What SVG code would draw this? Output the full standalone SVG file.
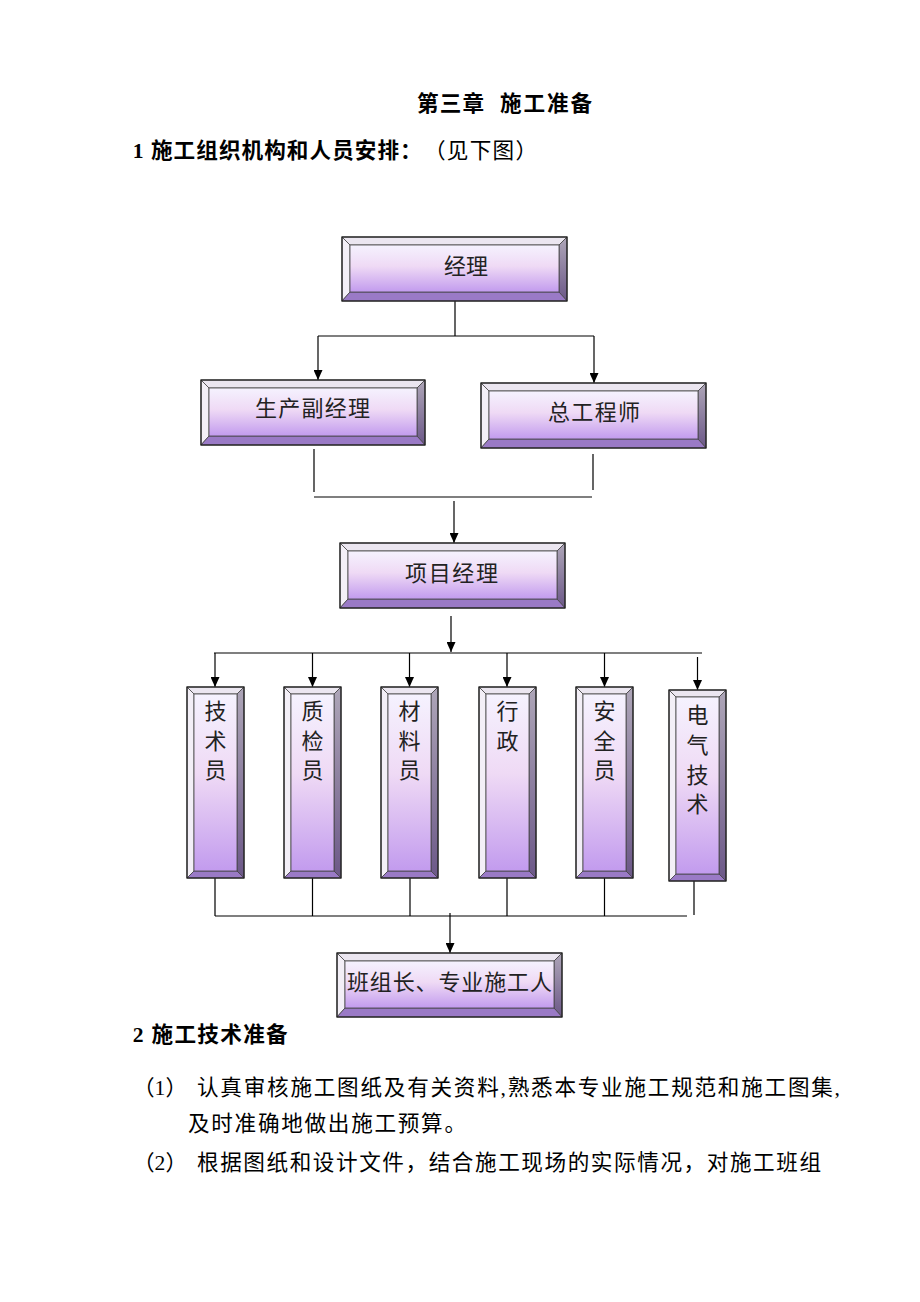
<svg xmlns="http://www.w3.org/2000/svg" width="920" height="1302" viewBox="0 0 920 1302">
<defs>
<linearGradient id="gFace" x1="0" y1="0" x2="0" y2="1">
<stop offset="0" stop-color="#f5f2fe"/>
<stop offset="0.45" stop-color="#efdaf5"/>
<stop offset="1" stop-color="#c29bee"/>
</linearGradient>
<linearGradient id="gRight" x1="0" y1="0" x2="0" y2="1">
<stop offset="0" stop-color="#aea6b8"/>
<stop offset="1" stop-color="#6c5888"/>
</linearGradient>
<marker id="arr" markerUnits="userSpaceOnUse" markerWidth="10" markerHeight="9" refX="10" refY="4.5" orient="auto">
<path d="M0,0 L10,4.5 L0,9 Z" fill="#000"/>
</marker>
</defs>
<style>
.bt{fill:#ebe6f0;stroke:#444;stroke-width:0.8}
.bl{fill:#f3eff7;stroke:#444;stroke-width:0.8}
.br{fill:url(#gRight);stroke:#444;stroke-width:0.8}
.bb{fill:#9a7ac6;stroke:#444;stroke-width:0.8}
.face{fill:url(#gFace);stroke:#444;stroke-width:0.8}
.out{fill:none;stroke:#222;stroke-width:1.3}
.lbl{font-family:"Noto Sans CJK SC","Noto Sans",sans-serif;font-size:22px;fill:#222}
.vl{font-family:"Noto Sans CJK SC","Noto Sans",sans-serif;font-size:22px;fill:#222;text-anchor:middle}
.h{font-family:"Liberation Serif","Noto Sans CJK SC",serif;font-size:21.6px;font-weight:bold;fill:#000}
.t{font-family:"Liberation Serif","Noto Sans CJK SC",serif;font-size:21.6px;fill:#000}
.ln{fill:none;stroke:#000;stroke-width:1.2}
.ar{fill:none;stroke:#000;stroke-width:1.2;marker-end:url(#arr)}
</style>
<rect width="920" height="1302" fill="#fff"/>

<text class="h" x="417" y="111" textLength="67" lengthAdjust="spacing">第三章</text>
<text class="h" x="500" y="111" textLength="92" lengthAdjust="spacing">施工准备</text>
<text class="h" x="132.7" y="157.5" textLength="289" lengthAdjust="spacing">1 施工组织机构和人员安排：</text>
<text class="t" x="424" y="157.5" textLength="113" lengthAdjust="spacing">（见下图）</text>

<g id="connectors">
<path class="ln" d="M455,301 V336 M318,336 H594"/>
<path class="ar" d="M318,336 V380"/>
<path class="ar" d="M594,336 V383"/>
<path class="ln" d="M314,449 V492 M593,454 V490 M314,497 H592"/>
<path class="ar" d="M454,501 V543"/>
<path class="ar" d="M451,616 V652"/>
<path class="ln" d="M214,653 H702"/>
<path class="ar" d="M215,653 V687"/>
<path class="ar" d="M312.5,653 V687"/>
<path class="ar" d="M409.5,653 V687"/>
<path class="ar" d="M507,653 V687"/>
<path class="ar" d="M604.5,653 V687"/>
<path class="ar" d="M697.5,657 V690"/>
<path class="ln" d="M215,878 V916 M312.5,878 V916 M410,878 V916 M507,878 V916 M604.5,878 V916 M694,881 V915 M215,916 H687"/>
<path class="ar" d="M450,913 V953"/>
</g>

<g id="n-jingli">
<polygon class="bt" points="342,237 567,237 559,245 350,245"/>
<polygon class="bl" points="342,237 350,245 350,292 342,301"/>
<polygon class="br" points="567,237 567,301 559,292 559,245"/>
<polygon class="bb" points="342,301 350,292 559,292 567,301"/>
<rect class="face" x="350" y="245" width="209" height="47"/>
<rect class="out" x="342" y="237" width="225" height="64"/>
<text class="lbl" x="444" y="274" textLength="44" lengthAdjust="spacing">经理</text>
</g>

<g id="n-shengchan">
<polygon class="bt" points="201,380 425,380 417,388 209,388"/>
<polygon class="bl" points="201,380 209,388 209,436 201,445"/>
<polygon class="br" points="425,380 425,445 417,436 417,388"/>
<polygon class="bb" points="201,445 209,436 417,436 425,445"/>
<rect class="face" x="209" y="388" width="208" height="48"/>
<rect class="out" x="201" y="380" width="224" height="65"/>
<text class="lbl" x="255" y="416" textLength="115" lengthAdjust="spacing">生产副经理</text>
</g>

<g id="n-zonggong">
<polygon class="bt" points="481,383 706,383 698,391 489,391"/>
<polygon class="bl" points="481,383 489,391 489,439 481,448"/>
<polygon class="br" points="706,383 706,448 698,439 698,391"/>
<polygon class="bb" points="481,448 489,439 698,439 706,448"/>
<rect class="face" x="489" y="391" width="209" height="48"/>
<rect class="out" x="481" y="383" width="225" height="65"/>
<text class="lbl" x="548" y="419.5" textLength="92" lengthAdjust="spacing">总工程师</text>
</g>

<g id="n-xiangmu">
<polygon class="bt" points="340,543 565,543 557,551 348,551"/>
<polygon class="bl" points="340,543 348,551 348,599 340,608"/>
<polygon class="br" points="565,543 565,608 557,599 557,551"/>
<polygon class="bb" points="340,608 348,599 557,599 565,608"/>
<rect class="face" x="348" y="551" width="209" height="48"/>
<rect class="out" x="340" y="543" width="225" height="65"/>
<text class="lbl" x="405" y="580.5" textLength="93" lengthAdjust="spacing">项目经理</text>
</g>

<g id="n-jishuyuan">
<polygon class="bt" points="187,687 244,687 237,694 194,694"/>
<polygon class="bl" points="187,687 194,694 194,871 187,878"/>
<polygon class="br" points="244,687 244,878 237,871 237,694"/>
<polygon class="bb" points="187,878 194,871 237,871 244,878"/>
<rect class="face" x="194" y="694" width="43" height="177"/>
<rect class="out" x="187" y="687" width="57" height="191"/>
<text class="vl" x="215.5" y="719">技</text>
<text class="vl" x="215.5" y="748.5">术</text>
<text class="vl" x="215.5" y="778">员</text>
</g>

<g id="n-zhijian">
<polygon class="bt" points="284,687 341,687 334,694 291,694"/>
<polygon class="bl" points="284,687 291,694 291,871 284,878"/>
<polygon class="br" points="341,687 341,878 334,871 334,694"/>
<polygon class="bb" points="284,878 291,871 334,871 341,878"/>
<rect class="face" x="291" y="694" width="43" height="177"/>
<rect class="out" x="284" y="687" width="57" height="191"/>
<text class="vl" x="312.5" y="719">质</text>
<text class="vl" x="312.5" y="748.5">检</text>
<text class="vl" x="312.5" y="778">员</text>
</g>

<g id="n-cailiao">
<polygon class="bt" points="381,687 438,687 431,694 388,694"/>
<polygon class="bl" points="381,687 388,694 388,871 381,878"/>
<polygon class="br" points="438,687 438,878 431,871 431,694"/>
<polygon class="bb" points="381,878 388,871 431,871 438,878"/>
<rect class="face" x="388" y="694" width="43" height="177"/>
<rect class="out" x="381" y="687" width="57" height="191"/>
<text class="vl" x="409.5" y="719">材</text>
<text class="vl" x="409.5" y="748.5">料</text>
<text class="vl" x="409.5" y="778">员</text>
</g>

<g id="n-xingzheng">
<polygon class="bt" points="479,687 536,687 529,694 486,694"/>
<polygon class="bl" points="479,687 486,694 486,871 479,878"/>
<polygon class="br" points="536,687 536,878 529,871 529,694"/>
<polygon class="bb" points="479,878 486,871 529,871 536,878"/>
<rect class="face" x="486" y="694" width="43" height="177"/>
<rect class="out" x="479" y="687" width="57" height="191"/>
<text class="vl" x="507.5" y="719">行</text>
<text class="vl" x="507.5" y="748.5">政</text>
</g>

<g id="n-anquan">
<polygon class="bt" points="576,687 633,687 626,694 583,694"/>
<polygon class="bl" points="576,687 583,694 583,871 576,878"/>
<polygon class="br" points="633,687 633,878 626,871 626,694"/>
<polygon class="bb" points="576,878 583,871 626,871 633,878"/>
<rect class="face" x="583" y="694" width="43" height="177"/>
<rect class="out" x="576" y="687" width="57" height="191"/>
<text class="vl" x="604.5" y="719">安</text>
<text class="vl" x="604.5" y="748.5">全</text>
<text class="vl" x="604.5" y="778">员</text>
</g>

<g id="n-dianqi">
<polygon class="bt" points="669,690 726,690 719,697 676,697"/>
<polygon class="bl" points="669,690 676,697 676,874 669,881"/>
<polygon class="br" points="726,690 726,881 719,874 719,697"/>
<polygon class="bb" points="669,881 676,874 719,874 726,881"/>
<rect class="face" x="676" y="697" width="43" height="177"/>
<rect class="out" x="669" y="690" width="57" height="191"/>
<text class="vl" x="697.5" y="723">电</text>
<text class="vl" x="697.5" y="753">气</text>
<text class="vl" x="697.5" y="783">技</text>
<text class="vl" x="697.5" y="812">术</text>
</g>

<g id="n-banzu">
<polygon class="bt" points="337,953 562,953 554,961 345,961"/>
<polygon class="bl" points="337,953 345,961 345,1008 337,1017"/>
<polygon class="br" points="562,953 562,1017 554,1008 554,961"/>
<polygon class="bb" points="337,1017 345,1008 554,1008 562,1017"/>
<rect class="face" x="345" y="961" width="209" height="47"/>
<rect class="out" x="337" y="953" width="225" height="64"/>
<text class="lbl" x="347" y="990" textLength="205" lengthAdjust="spacing">班组长、专业施工人</text>
</g>

<text class="h" x="132.7" y="1041.5" textLength="155" lengthAdjust="spacing">2 施工技术准备</text>
<text class="t" x="133" y="1094.5">（1）</text>
<text class="t" x="197" y="1094.5" textLength="643" lengthAdjust="spacing">认真审核施工图纸及有关资料,熟悉本专业施工规范和施工图集,</text>
<text class="t" x="188" y="1131" textLength="278" lengthAdjust="spacing">及时准确地做出施工预算。</text>
<text class="t" x="133" y="1170">（2）</text>
<text class="t" x="197" y="1170" textLength="624" lengthAdjust="spacing">根据图纸和设计文件，结合施工现场的实际情况，对施工班组</text>
</svg>
